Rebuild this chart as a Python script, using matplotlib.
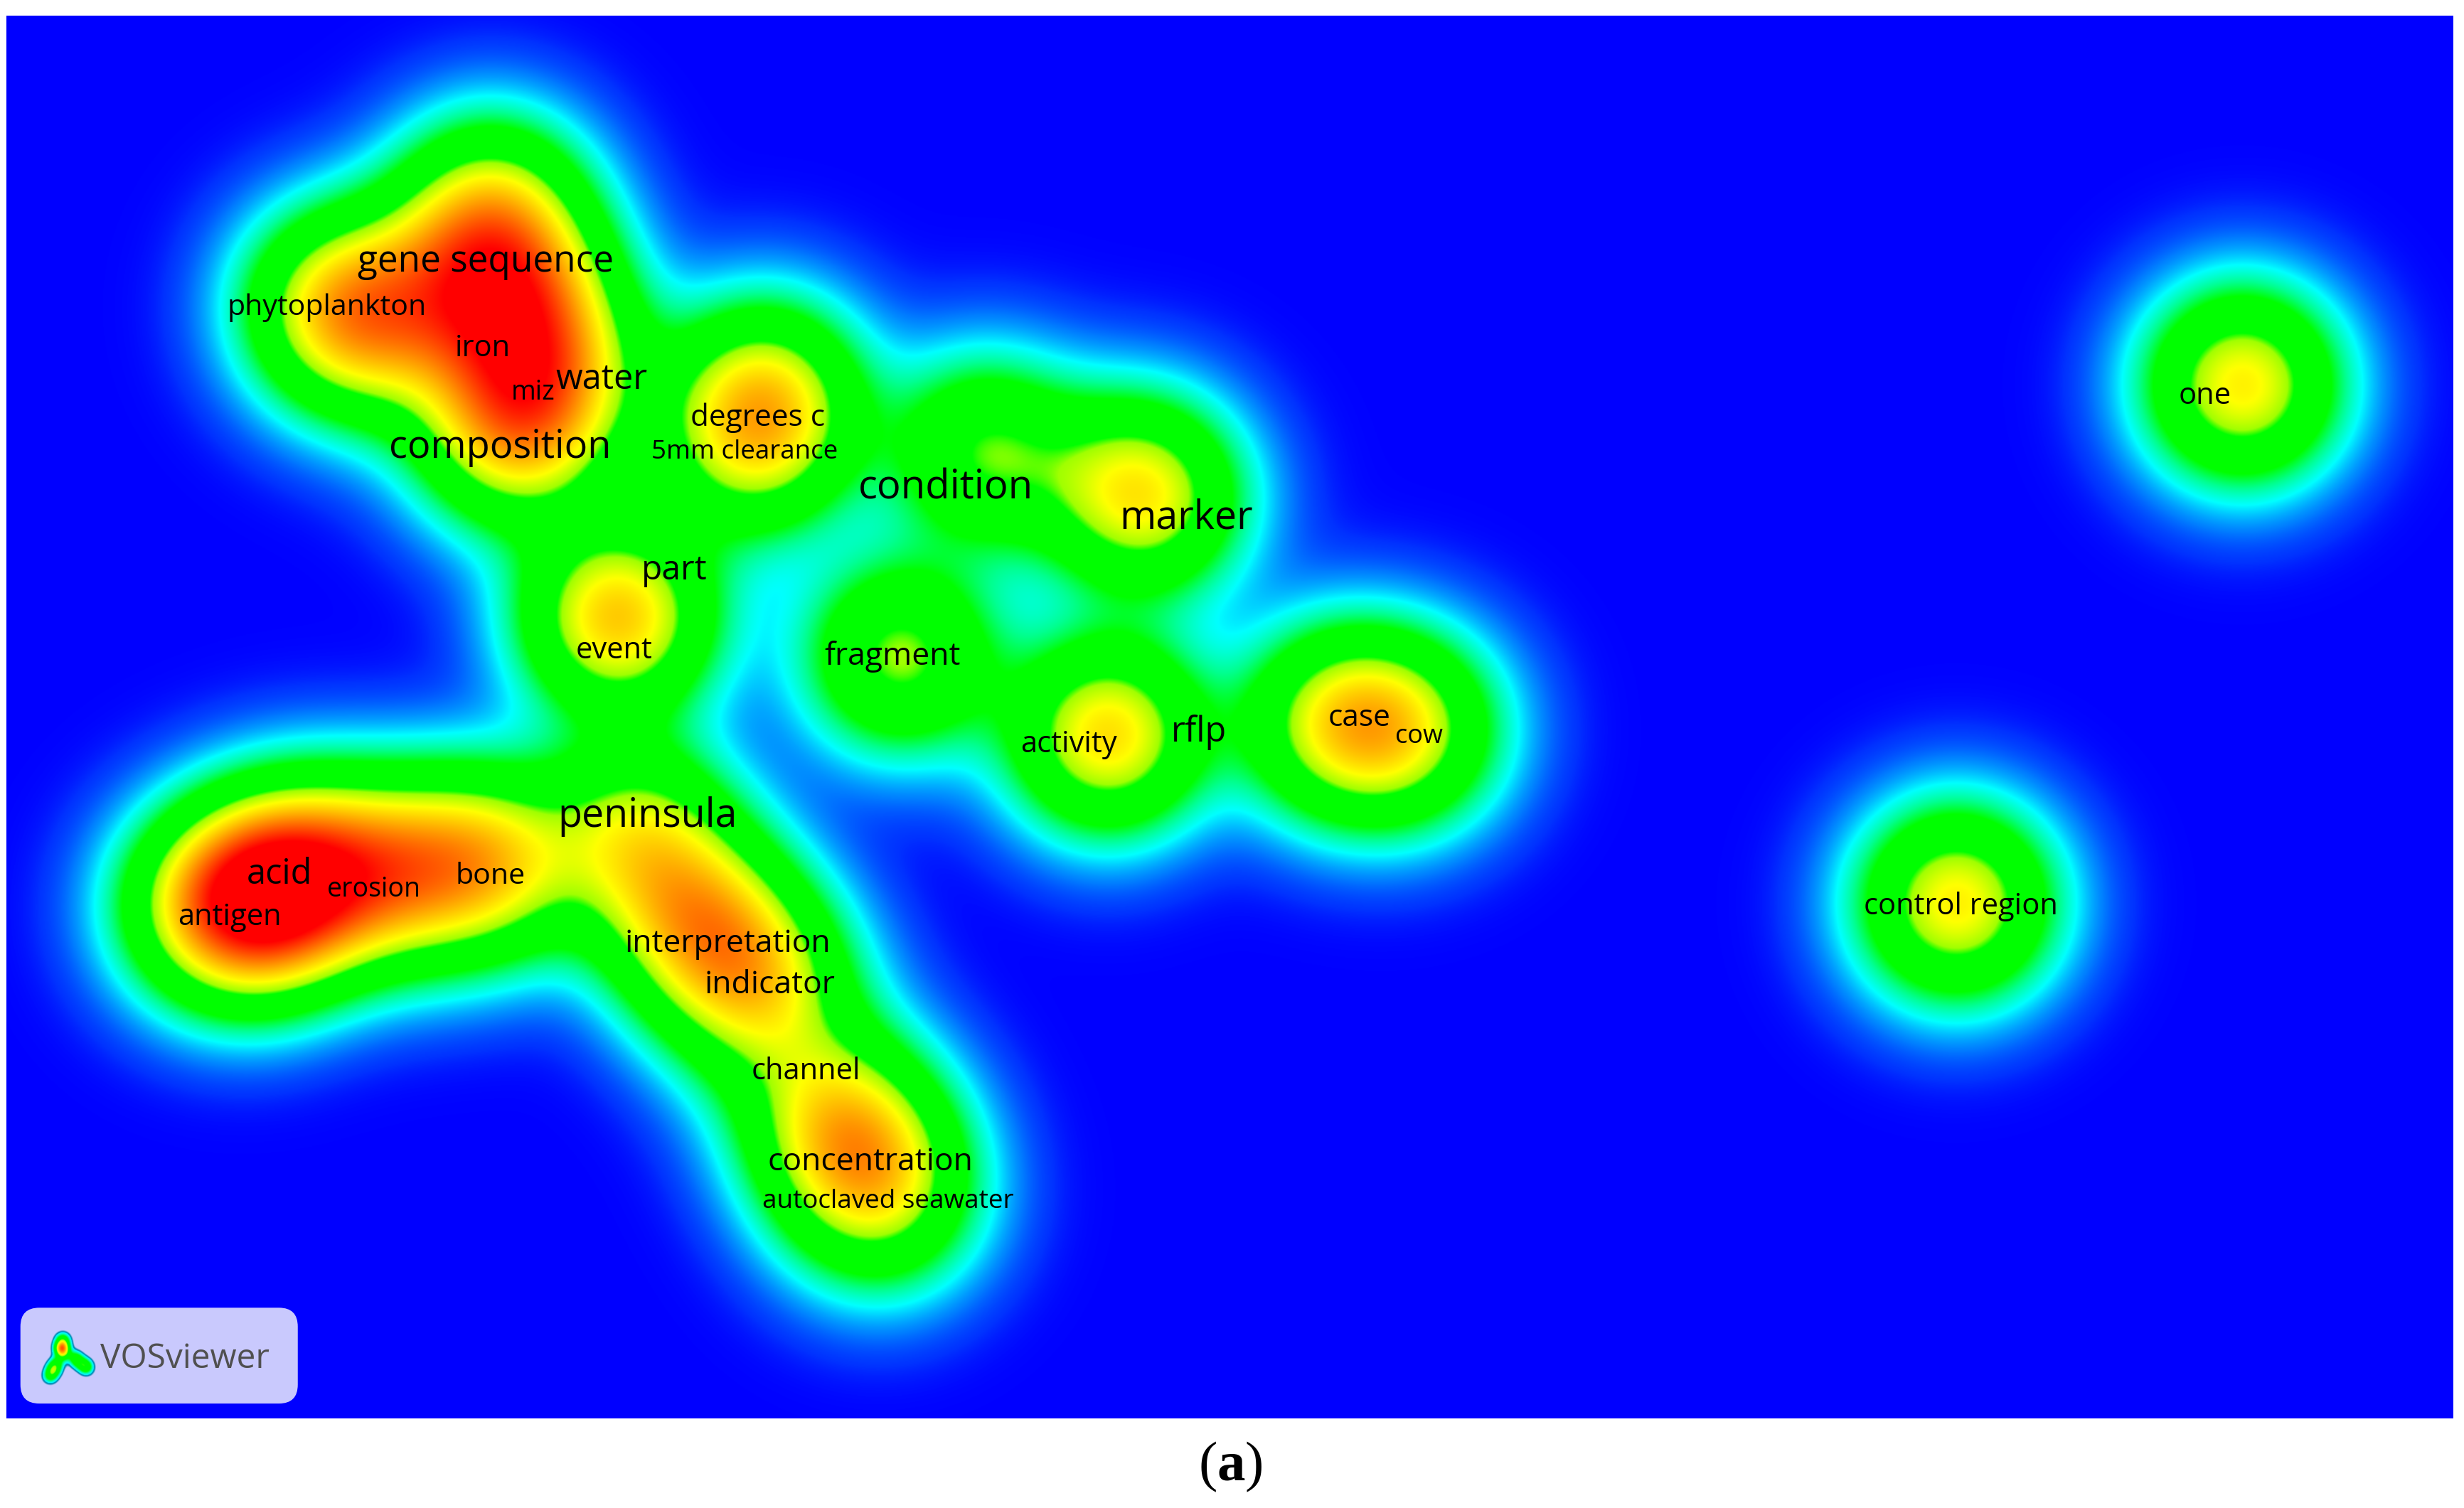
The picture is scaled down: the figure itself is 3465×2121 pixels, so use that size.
import numpy as np
import matplotlib
matplotlib.use("Agg")
import matplotlib.pyplot as plt
from matplotlib.colors import LinearSegmentedColormap
from matplotlib.patches import FancyBboxPatch

plt.rcParams['font.family'] = ['Open Sans', 'DejaVu Sans']
plt.rcParams['mathtext.fontset'] = 'custom'
plt.rcParams['mathtext.rm'] = 'Liberation Serif'
plt.rcParams['mathtext.bf'] = 'Liberation Serif:bold'

# density kernels (position on the map, weight)
kernel_x = [1427, 1245, 312, 325, 285, 350, 218, 240, 340, 350, 325, 487, 478, 627, 720, 735, 393, 573,
            705, 850, 895, 135, 165, 195, 250, 310, 405, 443, 480, 510, 540, 560]
kernel_y = [245, 575, 135, 185, 190, 205, 195, 220, 250, 235, 278, 250, 285, 288, 310, 322, 393, 418,
            468, 460, 465, 578, 575, 555, 555, 550, 530, 585, 625, 685, 722, 762]
kernel_w = [1.0, 1.0, 0.85, 0.7, 0.5, 0.3, 1.0, 0.3, 0.55, 0.3, 0.75, 0.78, 0.63, 0.7, 0.62, 0.42, 1.12, 0.78,
            1.05, 0.78, 0.73, 0.7, 1.1, 0.9, 0.85, 0.95, 0.75, 0.88, 0.83, 0.25, 0.83, 0.68]

labels = ["one", "control region", "gene sequence", "phytoplankton", "iron", "miz", "water",
          "composition", "degrees c", "5mm clearance", "condition", "marker", "part", "event",
          "fragment", "activity", "rflp", "case", "cow", "peninsula", "acid", "erosion", "bone",
          "antigen", "interpretation", "indicator", "channel", "concentration",
          "autoclaved seawater"]
label_x = [1403, 1248, 309, 208, 307, 339, 383, 318, 482, 474, 602, 755, 429, 391,
           568, 680, 763, 865, 903, 412, 178, 238, 312, 146, 463, 490, 513, 554, 565]
label_y = [252, 577, 167, 196, 222, 250, 242, 285, 266, 288, 311, 330, 363, 414,
           418, 474, 466, 457, 469, 520, 557, 566, 558, 584, 601, 627, 682, 740, 765]
label_size = [30, 30, 37, 29.6, 30, 27, 35, 39, 30.5, 26.5, 40.5, 40, 34.5, 30,
              32, 30, 35, 30.5, 26, 40, 35, 27, 29.6, 30, 32, 32, 30, 32, 26.6]

logo_x = [40, 39.5, 40, 36, 34, 32, 47.5, 50, 54, 55]
logo_y = [853, 858, 862, 868, 872, 876, 864, 867, 869, 871]
logo_w = [0.5, 1.2, 0.5, 0.4, 0.6, 0.4, 0.35, 0.4, 0.35, 0.3]

density_stops = [0.0, 0.02, 0.07, 0.17, 0.27, 0.38, 0.72, 0.78, 0.96, 1.8]
density_colors = ["#0000ff", "#0032ff", "#007dff", "#00ffff", "#00ff90", "#00ff00",
                  "#00ff00", "#a0ff00", "#ffff00", "#ff0000"]

vmax = density_stops[-1]
cmap = LinearSegmentedColormap.from_list(
    "vos", [(s / vmax, c) for s, c in zip(density_stops, density_colors)], N=2048)


def density(xs, ys, w, sigma, gx, gy):
    out = np.zeros_like(gx, dtype=float)
    for x, y, a in zip(xs, ys, w):
        out += a * np.exp(-((gx - x) ** 2 + (gy - y) ** 2) / (2 * sigma ** 2))
    return out


fig = plt.figure(figsize=(34.65, 21.21), dpi=100, facecolor="white")
ax = fig.add_axes([0, 0, 1, 1])
ax.set_xlim(0, 1568)
ax.set_ylim(960, 0)
ax.axis("off")

L, R, T, B = 4.0, 1561.0, 10.0, 903.0
gx, gy = np.meshgrid(np.arange(L, R + 0.5, 0.5), np.arange(T, B + 0.5, 0.5))
ax.imshow(density(kernel_x, kernel_y, kernel_w, 40.7, gx, gy), cmap=cmap, vmin=0, vmax=vmax,
          extent=(L, R, B, T), interpolation="bilinear", aspect="auto", zorder=1)

for s, x, y, fs in zip(labels, label_x, label_y, label_size):
    ax.text(x, y, s, ha="center", va="center", fontsize=fs, color="black", zorder=3)

# VOSviewer badge
ax.add_patch(FancyBboxPatch((13 + 9, 832.5 + 9), 176.5 - 18, 61 - 18,
                            boxstyle="round,pad=9,rounding_size=12",
                            fc="#c9c9fd", ec="none", zorder=4))
lgx, lgy = np.meshgrid(np.arange(26, 62, 0.25), np.arange(843, 884, 0.25))
lg = density(logo_x, logo_y, logo_w, 3.0, lgx, lgy)
rgba = cmap(np.clip(lg / vmax, 0, 1))
rgba[..., 3] = np.clip((lg - 0.06) / 0.04, 0, 1)
rgba[(lg < 0.14), :3] = np.array([0.0, 0.55, 0.7])
ax.imshow(rgba, extent=(26, 62, 884, 843), aspect="auto", zorder=5, interpolation="bilinear")
ax.set_xlim(0, 1568)
ax.set_ylim(960, 0)
ax.text(64, 865, "VOSviewer", ha="left", va="center", fontsize=34.5, color="#505050", zorder=6)

ax.text(783, 934, r"($\mathbf{a}$)", ha="center", va="center", fontsize=57,
        family="Liberation Serif", color="black")

fig.savefig("out.png", dpi=100, facecolor="white")
